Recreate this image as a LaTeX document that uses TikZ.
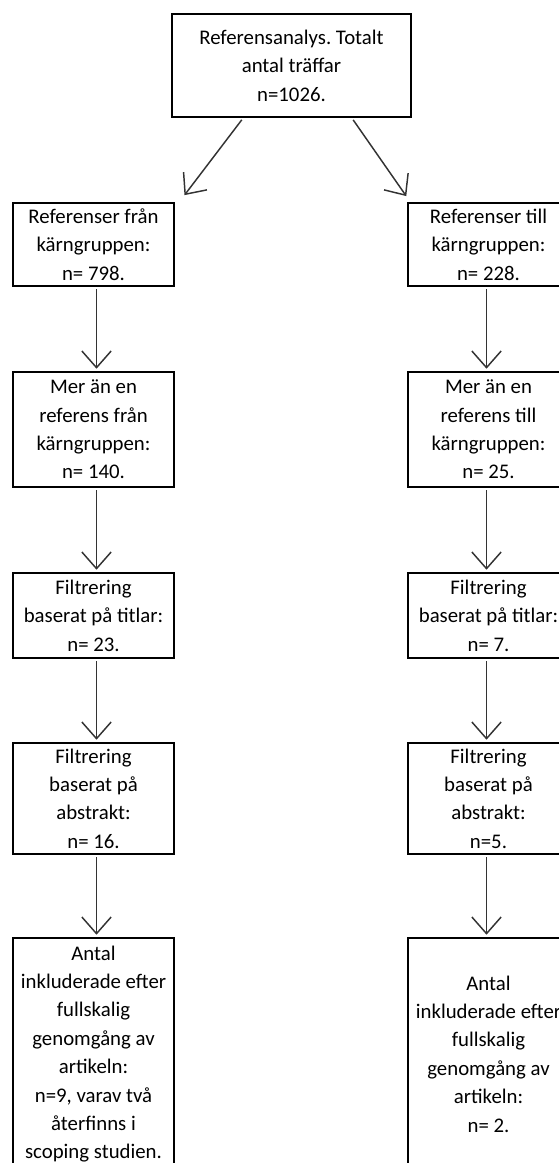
\documentclass[tikz,border=0pt]{standalone}
\usepackage{fontspec}
\setmainfont{Carlito}
\usepackage{tikz}
\usetikzlibrary{arrows.meta}
\frenchspacing
\tikzstyle{flow}=[x=0.75pt, y=-0.75pt, font=\fontsize{15.6pt}{21.3pt}\selectfont]
\tikzstyle{box}=[rectangle, draw=black, line width=1.9pt, fill=white, inner sep=0pt, align=center, minimum width=120.75pt]
\tikzstyle{edge}=[draw=black!80, line width=1.1pt, -{Straight Barb[length=12.5pt, width=22pt, line width=1.1pt]}, shorten <=1.5pt, shorten >=1.5pt]

\begin{document}
\begin{tikzpicture}[flow]
			\useasboundingbox (0,0) rectangle (558,1163);
			\draw (291.5,65.5) node[box, minimum width=179.25pt, minimum height=77.25pt] (r0) {Referensanalys. Totalt\\antal träffar\\n=1026.};
			% left column
			\draw (93.5,244.5) node[box, minimum height=62.25pt] (l1) {Referenser från\\kärngruppen:\\n= 798.};
			\draw (93.5,429.5) node[box, minimum height=86.25pt] (l2) {Mer än en\\referens från\\kärngruppen:\\n= 140.};
			\draw (93.5,615.5) node[box, minimum height=63.75pt] (l3) {Filtrering\\baserat på titlar:\\n= 23.};
			\draw (93.5,798.5) node[box, minimum height=83.25pt] (l4) {Filtrering\\baserat på\\abstrakt:\\n= 16.};
			\draw (93.5,1054) node[box, minimum height=174pt] (l5) {Antal\\inkluderade efter\\fullskalig\\genomgång av\\artikeln:\\n=9, varav två\\återfinns i\\scoping studien.};
			% right column
			\draw (488.5,244.5) node[box, minimum height=62.25pt] (h1) {Referenser till\\kärngruppen:\\n= 228.};
			\draw (488.5,429.5) node[box, minimum height=86.25pt] (h2) {Mer än en\\referens till\\kärngruppen:\\n= 25.};
			\draw (488.5,615.5) node[box, minimum height=63.75pt] (h3) {Filtrering\\baserat på titlar:\\n= 7.};
			\draw (488.5,798.5) node[box, minimum height=83.25pt] (h4) {Filtrering\\baserat på\\abstrakt:\\n=5.};
			\draw (488.5,1054) node[box, minimum height=174pt] (h5) {Antal\\inkluderade efter\\fullskalig\\genomgång av\\artikeln:\\n= 2.};
			\draw[edge] ([xshift=-36.4pt]r0.south) -- ([shift={(6pt,3.75pt)}]l1.north east);
			\draw[edge] ([xshift=45.4pt]r0.south) -- ([shift={(0.5pt,3pt)}]h1.north west);
			\foreach \a/\b in {l1/l2, l2/l3, l3/l4, l4/l5}
				\draw[edge] ([xshift=2.25pt]\a.south) -- ([xshift=2.25pt]\b.north);
			\foreach \a/\b in {h1/h2, h2/h3, h3/h4, h4/h5}
				\draw[edge] ([xshift=-1.5pt]\a.south) -- ([xshift=-1.5pt]\b.north);
		\end{tikzpicture}
\end{document}
